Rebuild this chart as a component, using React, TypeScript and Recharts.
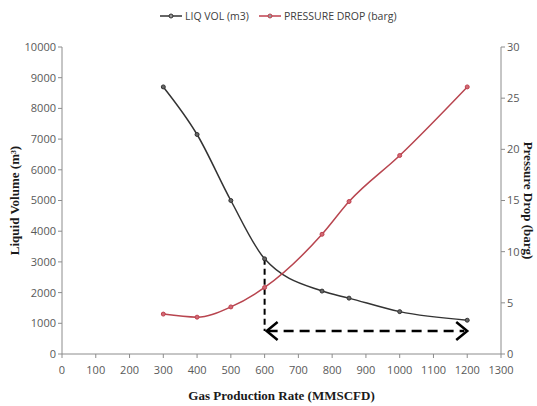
import { LineChart, Line, XAxis, YAxis, ReferenceLine } from 'recharts'

const rates = [300, 400, 500, 600, 770, 850, 1000, 1200]
const liqVol = [8700, 7150, 5000, 3100, 2050, 1820, 1380, 1100]
const pressureDrop = [3.9, 3.6, 4.6, 6.5, 11.7, 14.9, 19.4, 26.1]

const xTicks = [0, 100, 200, 300, 400, 500, 600, 700, 800, 900, 1000, 1100, 1200, 1300]
const leftTicks = [0, 1000, 2000, 3000, 4000, 5000, 6000, 7000, 8000, 9000, 10000]
const rightTicks = [0, 5, 10, 15, 20, 25, 30]

// dashed annotation: drop from the 600 point, then arrow across to 1200
const markRate = 600
const markVol = 3100
const arrowVol = 750
const arrowEndRate = 1200

const data = rates.map((r, i) => ({ rate: r, liq: liqVol[i], dp: pressureDrop[i] }))

const tickStyle = { fill: '#595959', fontSize: 11, fontFamily: 'Open Sans, sans-serif' }
const axisColor = '#8c8c8c'
const titleStyle = { fontFamily: 'Liberation Serif, serif', fontWeight: 700, fontSize: 13, fill: '#1a1a1a' }

const DashedVertical = (props: any) => (
  <line x1={props.x1} y1={props.y1} x2={props.x2} y2={props.y2} stroke="#000" strokeWidth={2} strokeDasharray="6 4" />
)

const DashedArrow = (props: any) => {
  const { x1, y1, x2, y2 } = props
  const h = 11
  const w = 9
  return (
    <g>
      <line x1={x1 + 3} y1={y1} x2={x2 - 3} y2={y2} stroke="#000" strokeWidth={2.5} strokeDasharray="10 6" />
      <polyline points={`${x1 + h + 2},${y1 - w} ${x1 + 2},${y1} ${x1 + h + 2},${y1 + w}`} fill="none" stroke="#000" strokeWidth={2.5} />
      <polyline points={`${x2 - h},${y2 - w} ${x2},${y2} ${x2 - h},${y2 + w}`} fill="none" stroke="#000" strokeWidth={2.5} />
    </g>
  )
}

const LegendItem = ({ color, label }: { color: string; label: string }) => (
  <div style={{ display: 'flex', alignItems: 'center', gap: 3 }}>
    <svg width={22} height={8}>
      <line x1={0} y1={4} x2={22} y2={4} stroke={color} strokeWidth={1.5} />
      <circle cx={11} cy={4} r={2} fill="#999" stroke={color} strokeWidth={1} />
    </svg>
    <span>{label}</span>
  </div>
)

export default function App() {
  return (
    <div style={{ position: 'absolute', left: 0, top: 0, width: 537, height: 406, background: '#fff' }}>
      <div
        style={{
          position: 'absolute', left: 160, top: 9, display: 'flex', gap: 10,
          fontSize: 10.5, color: '#404040', fontFamily: 'Open Sans, sans-serif',
        }}
      >
        <LegendItem color="#333333" label="LIQ VOL (m3)" />
        <LegendItem color="#c0404e" label="PRESSURE DROP (barg)" />
      </div>
      <LineChart width={537} height={406} data={data} margin={{ top: 47, right: 0, bottom: 0, left: 0 }}>
        <XAxis
          dataKey="rate"
          type="number"
          domain={[0, 1300]}
          ticks={xTicks}
          interval={0}
          height={52}
          tick={{ ...tickStyle, dy: 6 }}
          tickSize={4}
          stroke={axisColor}
          label={{ value: 'Gas Production Rate (MMSCFD)', position: 'insideBottom', offset: 6, style: titleStyle }}
        />
        <YAxis
          yAxisId="left"
          domain={[0, 10000]}
          ticks={leftTicks}
          interval={0}
          width={62}
          tick={tickStyle}
          tickSize={4}
          stroke={axisColor}
          label={{ value: 'Liquid Volume (m³)', angle: -90, position: 'insideLeft', offset: 14, style: { ...titleStyle, textAnchor: 'middle' } }}
        />
        <YAxis
          yAxisId="right"
          orientation="right"
          domain={[0, 30]}
          ticks={rightTicks}
          interval={0}
          width={36}
          tick={tickStyle}
          tickSize={4}
          stroke={axisColor}
          label={{ value: 'Pressure Drop (barg)', angle: 90, position: 'insideRight', offset: 8, style: { ...titleStyle, textAnchor: 'middle' } }}
        />
        <Line
          yAxisId="left"
          type="monotone"
          dataKey="liq"
          stroke="#333333"
          strokeWidth={1.5}
          dot={{ r: 2, fill: '#666', stroke: '#333', strokeWidth: 1 }}
          isAnimationActive={false}
        />
        <Line
          yAxisId="right"
          type="monotone"
          dataKey="dp"
          stroke="#b8454f"
          strokeWidth={1.5}
          dot={{ r: 2, fill: '#d06a74', stroke: '#c0404e', strokeWidth: 1 }}
          isAnimationActive={false}
        />
        <ReferenceLine
          yAxisId="left"
          segment={[{ x: markRate, y: markVol }, { x: markRate, y: arrowVol }]}
          shape={DashedVertical}
        />
        <ReferenceLine
          yAxisId="left"
          segment={[{ x: markRate, y: arrowVol }, { x: arrowEndRate, y: arrowVol }]}
          shape={DashedArrow}
        />
      </LineChart>
    </div>
  )
}
